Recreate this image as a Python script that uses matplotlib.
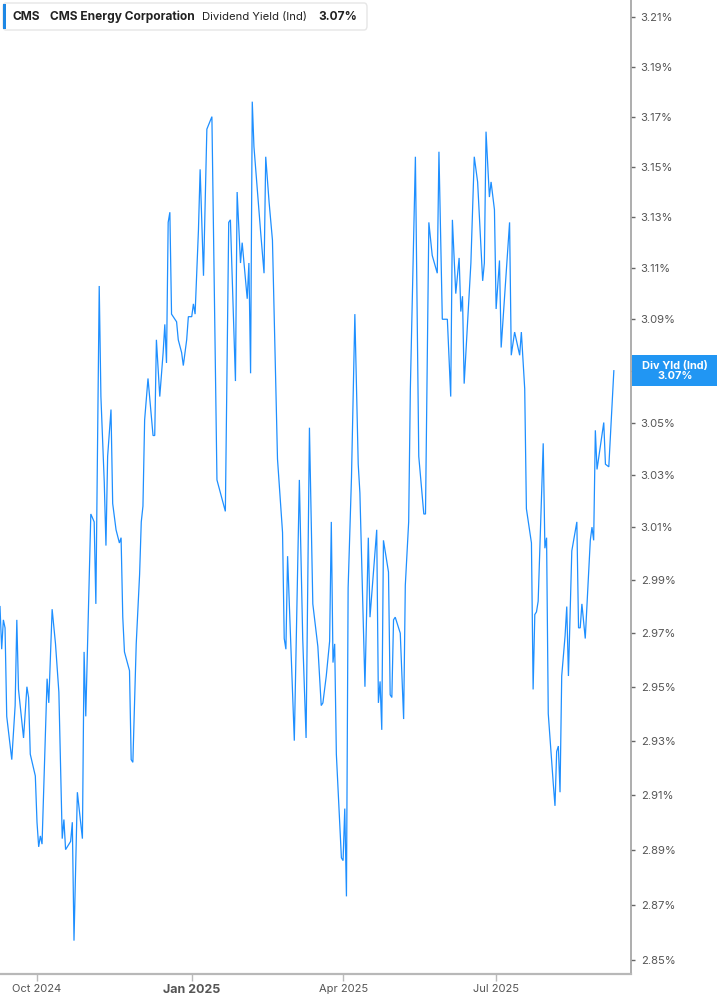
import matplotlib
matplotlib.use('Agg')
import matplotlib.pyplot as plt
import matplotlib.ticker as mticker
import matplotlib.dates as mdates
from matplotlib.patches import Rectangle, FancyBboxPatch
import pandas as pd

plt.rcParams['font.family'] = ['Inter', 'DejaVu Sans']

# ---- data ----
start_date = pd.Timestamp('2024-10-01')
# days since 2024-10-01
day_offsets = [
    -22, -21, -20, -19, -18, -15, -13, -12, -11, -8,
    -6, -5, -4, -1, 0, 1, 2, 3, 6, 7,
    9, 11, 13, 15, 16, 17, 20, 21, 22, 24,
    27, 28, 29, 32, 34, 35, 37, 38, 40, 41,
    42, 44, 45, 47, 49, 50, 51, 52, 55, 56,
    57, 59, 61, 62, 63, 64, 66, 68, 69, 70,
    71, 73, 75, 76, 77, 78, 79, 80, 83, 84,
    86, 87, 89, 90, 92, 93, 94, 96, 97, 99,
    101, 104, 107, 112, 114, 115, 118, 119, 121, 122,
    125, 126, 127, 128, 129, 133, 135, 136, 138, 140,
    143, 146, 147, 148, 149, 153, 156, 158, 160, 162,
    164, 167, 169, 170, 172, 174, 175, 176, 177, 178,
    181, 182, 183, 184, 185, 187, 189, 191, 192, 195,
    197, 198, 202, 203, 204, 205, 206, 209, 210, 211,
    212, 213, 216, 218, 219, 221, 222, 225, 227, 230,
    231, 233, 235, 238, 239, 241, 243, 244, 246, 247,
    249, 251, 252, 253, 254, 258, 260, 262, 265, 266,
    267, 269, 270, 272, 273, 275, 276, 281, 282, 284,
    287, 288, 290, 291, 294, 295, 296, 297, 298, 301,
    302, 303, 304, 307, 308, 309, 310, 311, 312, 314,
    315, 316, 318, 321, 322, 323, 324, 326, 329, 330,
    331, 332, 333, 337, 338, 340, 343,
]
div_yield = [
    2.980, 2.964, 2.975, 2.972, 2.939, 2.923, 2.943, 2.975, 2.949, 2.931,
    2.950, 2.946, 2.925, 2.917, 2.900, 2.891, 2.895, 2.892, 2.953, 2.944,
    2.979, 2.966, 2.948, 2.894, 2.901, 2.890, 2.893, 2.900, 2.857, 2.911,
    2.894, 2.963, 2.939, 3.015, 3.012, 2.981, 3.103, 3.060, 3.027, 3.003,
    3.037, 3.055, 3.019, 3.009, 3.004, 3.006, 2.976, 2.963, 2.956, 2.923,
    2.922, 2.966, 2.992, 3.012, 3.018, 3.051, 3.067, 3.052, 3.045, 3.045,
    3.082, 3.060, 3.077, 3.088, 3.073, 3.128, 3.132, 3.092, 3.089, 3.082,
    3.077, 3.072, 3.082, 3.091, 3.091, 3.096, 3.092, 3.125, 3.149, 3.107,
    3.165, 3.170, 3.028, 3.016, 3.128, 3.129, 3.066, 3.140, 3.112, 3.120,
    3.098, 3.112, 3.069, 3.176, 3.158, 3.124, 3.108, 3.154, 3.136, 3.121,
    3.036, 3.008, 2.968, 2.964, 2.999, 2.930, 3.028, 2.968, 2.931, 3.048,
    2.981, 2.965, 2.943, 2.944, 2.954, 2.967, 3.012, 2.959, 2.966, 2.925,
    2.887, 2.886, 2.905, 2.873, 2.987, 3.029, 3.092, 3.034, 3.023, 2.950,
    3.006, 2.976, 3.009, 2.944, 2.952, 2.934, 3.005, 2.993, 2.947, 2.946,
    2.975, 2.976, 2.970, 2.938, 2.988, 3.012, 3.063, 3.154, 3.037, 3.015,
    3.015, 3.128, 3.115, 3.108, 3.156, 3.090, 3.090, 3.090, 3.060, 3.129,
    3.100, 3.114, 3.093, 3.099, 3.065, 3.112, 3.154, 3.144, 3.105, 3.112,
    3.164, 3.138, 3.144, 3.133, 3.094, 3.113, 3.079, 3.128, 3.076, 3.085,
    3.076, 3.085, 3.063, 3.017, 3.004, 2.949, 2.977, 2.978, 2.982, 3.042,
    3.002, 3.006, 2.940, 2.914, 2.906, 2.926, 2.928, 2.911, 2.954, 2.969,
    2.980, 2.954, 3.001, 3.012, 2.972, 2.972, 2.981, 2.968, 3.005, 3.010,
    3.005, 3.047, 3.032, 3.050, 3.034, 3.033, 3.070,
]
ytick_values = [2.85, 2.87, 2.89, 2.91, 2.93, 2.95, 2.97, 2.99, 3.01, 3.03,
                3.05, 3.07, 3.09, 3.11, 3.13, 3.15, 3.17, 3.19, 3.21]
ytick_labels = ['2.85%', '2.87%', '2.89%', '2.91%', '2.93%', '2.95%', '2.97%',
                '2.99%', '3.01%', '3.03%', '3.05%', '3.07%', '3.09%', '3.11%',
                '3.13%', '3.15%', '3.17%', '3.19%', '3.21%']
xtick_dates = ['2024-10-01', '2025-01-01', '2025-04-01', '2025-07-01']
xtick_labels = ['Oct 2024', 'Jan 2025', 'Apr 2025', 'Jul 2025']
ticker_symbol = 'CMS'
company = 'CMS Energy Corporation'
metric = 'Dividend Yield (Ind)'
last_value_label = '3.07%'
last_value = 3.07

dates = start_date + pd.to_timedelta(day_offsets, unit='D')

W, H = 717, 1005
fig = plt.figure(figsize=(W / 100, H / 100), dpi=100)
fig.patch.set_facecolor('white')
ax = fig.add_axes([0, 31 / H, 631 / W, 974 / H])
ax.set_facecolor('white')

line_color = '#1E8FFF'
ax.plot(dates, div_yield, color=line_color, lw=0.9, solid_joinstyle='miter')

ax.set_yscale('log')
ax.set_ylim(2.845, 3.217)
ax.set_xlim(start_date - pd.Timedelta(days=22), start_date + pd.Timedelta(days=353.2))

ax.yaxis.set_major_locator(mticker.FixedLocator(ytick_values))
ax.yaxis.set_major_formatter(mticker.FixedFormatter(ytick_labels))
ax.yaxis.set_minor_locator(mticker.NullLocator())
ax.yaxis.set_minor_formatter(mticker.NullFormatter())
ax.yaxis.tick_right()
ax.tick_params(axis='y', which='major', length=3, width=1, color='#666666',
               labelsize=8.1, labelcolor='#555555', pad=4, direction='out')

ax.xaxis.set_major_locator(mticker.FixedLocator(mdates.date2num(pd.to_datetime(xtick_dates))))
ax.xaxis.set_major_formatter(mticker.FixedFormatter(xtick_labels))
ax.xaxis.set_minor_locator(mticker.NullLocator())
ax.tick_params(axis='x', which='major', length=5, width=1, color='#bbbbbb',
               labelsize=8.0, labelcolor='#555555', pad=2, direction='out')
for i, lab in enumerate(ax.get_xticklabels()):
    if xtick_labels[i].startswith('Jan'):
        lab.set_fontweight('bold')
        lab.set_fontsize(9.0)

for s in ['left', 'top']:
    ax.spines[s].set_visible(False)
ax.spines['right'].set_color('#a0a0a0')
ax.spines['right'].set_linewidth(1.2)
ax.spines['bottom'].set_color('#b8b8b8')
ax.spines['bottom'].set_linewidth(1.6)
ax.grid(False)

# ---- current value box on the right axis ----
fig.canvas.draw()
yc = ax.transData.transform((mdates.date2num(dates[-1]), last_value))[1]
box = Rectangle((632 / W, (yc - 15.5) / H), (W - 632) / W, 31 / H,
                transform=fig.transFigure, facecolor='#2196F3', edgecolor='none', zorder=5)
fig.add_artist(box)
fig.text(675 / W, yc / H, 'Div Yld (Ind)\n' + last_value_label, ha='center', va='center',
         color='white', fontweight='bold', fontsize=7.9, linespacing=1.05, zorder=6)

# ---- legend header ----
lg = FancyBboxPatch((3 / W, (H - 30) / H), 364 / W, 27 / H,
                    boxstyle='round,pad=0,rounding_size=0.004',
                    transform=fig.transFigure, facecolor='white', edgecolor='#e6e6e6',
                    lw=1, zorder=5)
fig.add_artist(lg)
bar = Rectangle((3 / W, (H - 29) / H), 3 / W, 25 / H, transform=fig.transFigure,
                facecolor='#1E88E5', edgecolor='none', zorder=6)
fig.add_artist(bar)
ty = (H - 17) / H
txt_kw = dict(va='center', ha='left', color='#222222', zorder=7)
fig.text(13 / W, ty, ticker_symbol, fontweight='bold', fontsize=8.6, **txt_kw)
fig.text(50 / W, ty, company, fontweight='bold', fontsize=8.6, **txt_kw)
fig.text(202 / W, ty, metric, fontweight='normal', fontsize=8.1, **txt_kw)
fig.text(318 / W, ty, last_value_label, fontweight='bold', fontsize=8.6, **txt_kw)

fig.savefig('out.png', dpi=100, facecolor='white')
